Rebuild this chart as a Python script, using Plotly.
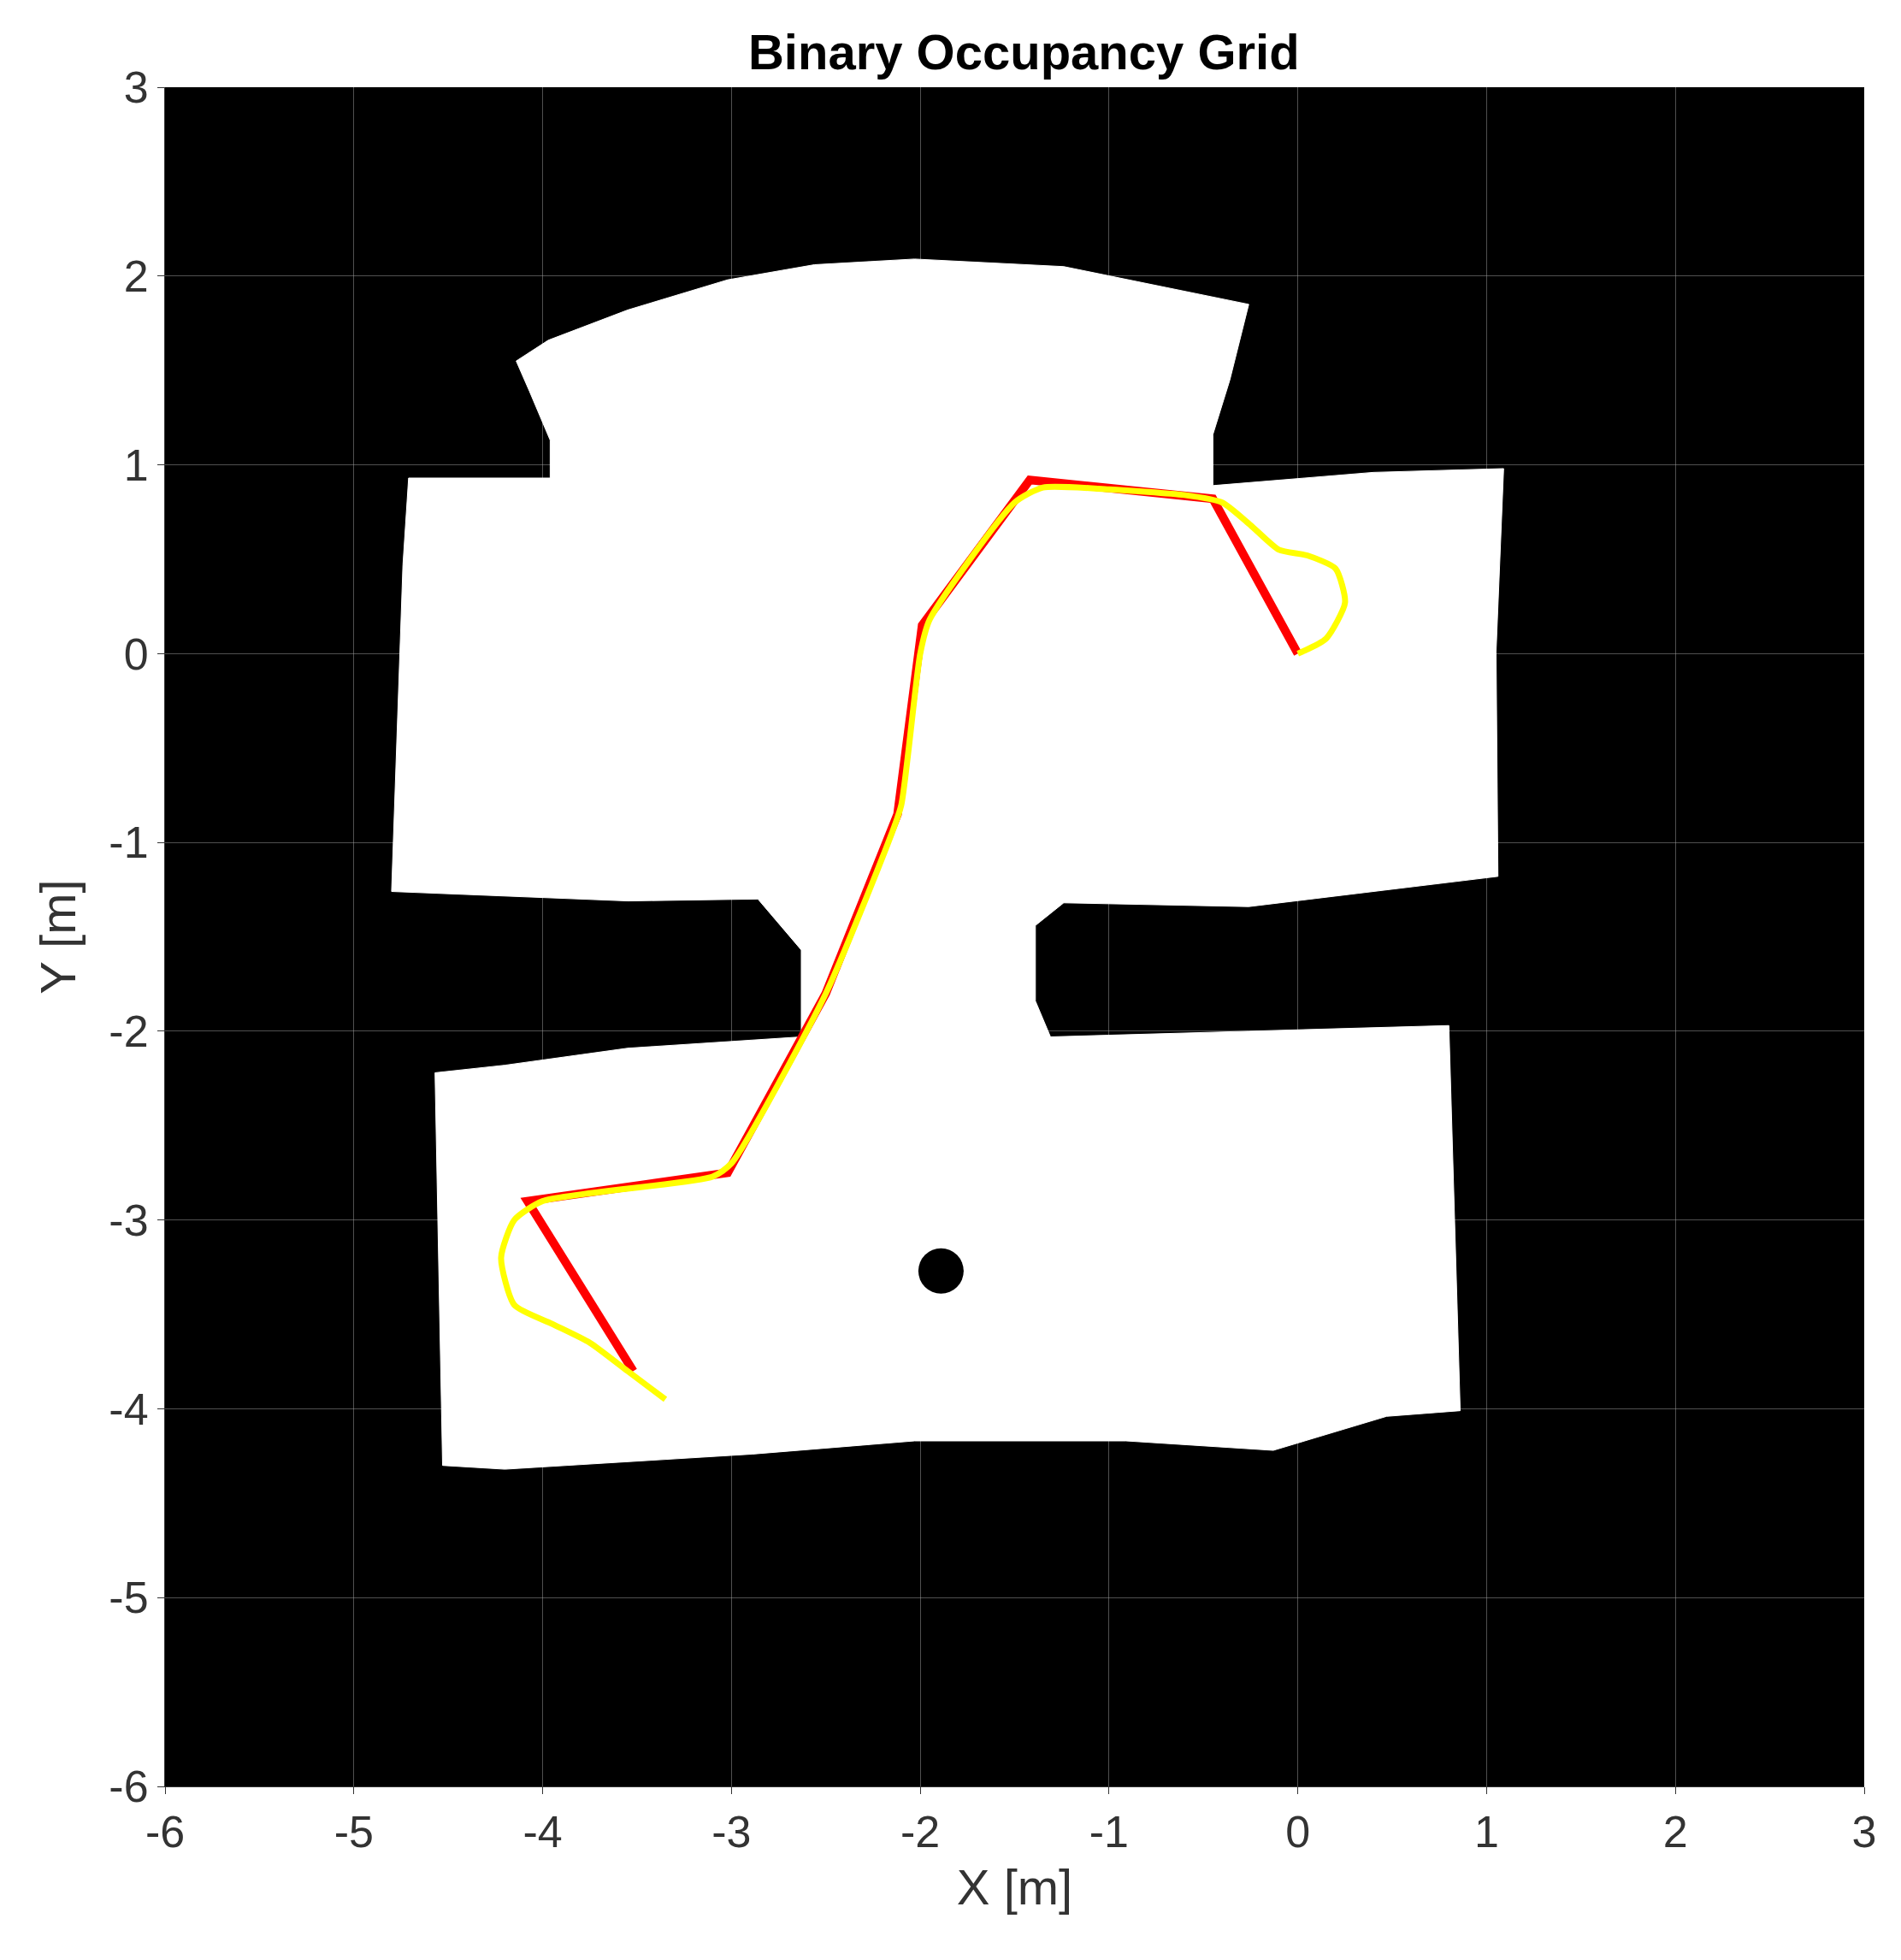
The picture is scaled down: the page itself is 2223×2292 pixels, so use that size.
import plotly.graph_objects as go

# free-space outline (m)
free_x = [-4.14,-3.97,-3.55,-3.02,-2.56,-2.03,-1.24,-0.26,-0.36,-0.45,-0.45,0.40,1.09,1.05,1.06,0.40,-0.26,-1.24,-1.39,-1.39,-1.31,-0.26,0.80,0.86,0.47,-0.13,-0.91,-2.03,-2.89,-4.20,-4.53,-4.57,-4.20,-3.55,-2.63,-2.63,-2.86,-3.55,-4.80,-4.74,-4.71,-3.96,-3.96,-4.07]
free_y = [1.55,1.66,1.82,1.98,2.06,2.09,2.05,1.85,1.45,1.16,0.89,0.96,0.98,0.01,-1.18,-1.26,-1.34,-1.32,-1.44,-1.84,-2.03,-2.00,-1.97,-4.01,-4.04,-4.22,-4.17,-4.17,-4.24,-4.32,-4.30,-2.22,-2.18,-2.09,-2.03,-1.57,-1.30,-1.31,-1.26,0.47,0.93,0.93,1.13,1.39]
obstacle = (-1.89, -3.27, 0.12)

red_x = [0,-0.45,-1.42,-1.99,-2.12,-2.5,-3.02,-4.08,-3.52]
red_y = [0,0.82,0.92,0.15,-0.85,-1.8,-2.75,-2.9,-3.8]
yel_x = [0,0.15,0.25,0.2,0.05,-0.1,-0.25,-0.4,-0.6,-1.0,-1.35,-1.5,-1.95,-2.0,-2.1,-2.15,-2.5,-3.0,-3.1,-4.0,-4.15,-4.22,-4.15,-3.95,-3.75,-3.55,-3.35]
yel_y = [0,0.08,0.27,0.45,0.52,0.55,0.68,0.8,0.84,0.87,0.88,0.8,0.18,0.0,-0.8,-0.95,-1.8,-2.7,-2.77,-2.9,-3.0,-3.2,-3.45,-3.55,-3.65,-3.8,-3.95]
ticks = list(range(-6, 4))
tick_labels = [str(t) for t in ticks]

fig = go.Figure()
fig.add_trace(go.Scatter(x=free_x+[free_x[0]], y=free_y+[free_y[0]], fill="toself",
                         fillcolor="white", line=dict(color="white", width=1), mode="lines"))
cx, cy, r = obstacle
fig.add_shape(type="circle", x0=cx-r, x1=cx+r, y0=cy-r, y1=cy+r, fillcolor="black", line_width=0)
fig.add_trace(go.Scatter(x=red_x, y=red_y, mode="lines", line=dict(color="red", width=10)))
fig.add_trace(go.Scatter(x=yel_x, y=yel_y, mode="lines", line=dict(color="yellow", width=7, shape="spline", smoothing=0.6)))

ax = dict(range=[-6,3], tickvals=ticks, ticktext=tick_labels, showgrid=True, gridcolor="rgba(160,160,160,0.5)", zeroline=False,
          layer="above traces", ticks="outside", ticklen=8, tickcolor="#333", showline=True, linecolor="#333",
          tickfont=dict(size=52, color="#333"), title_font=dict(size=58, color="#333"))
fig.update_layout(width=2223, height=2292, margin=dict(l=185, r=51, t=94, b=211),
                  plot_bgcolor="black", paper_bgcolor="white", showlegend=False,
                  font=dict(family="Arial, Liberation Sans"),
                  title=dict(text="<b>Binary Occupancy Grid</b>", x=0.535, xanchor="center", y=0.986, font=dict(size=58, color="black")),
                  xaxis=dict(ax, title_text="X [m]", title_standoff=15), yaxis=dict(ax, title_text="Y [m]", title_standoff=20))
fig.write_html("out.html")
